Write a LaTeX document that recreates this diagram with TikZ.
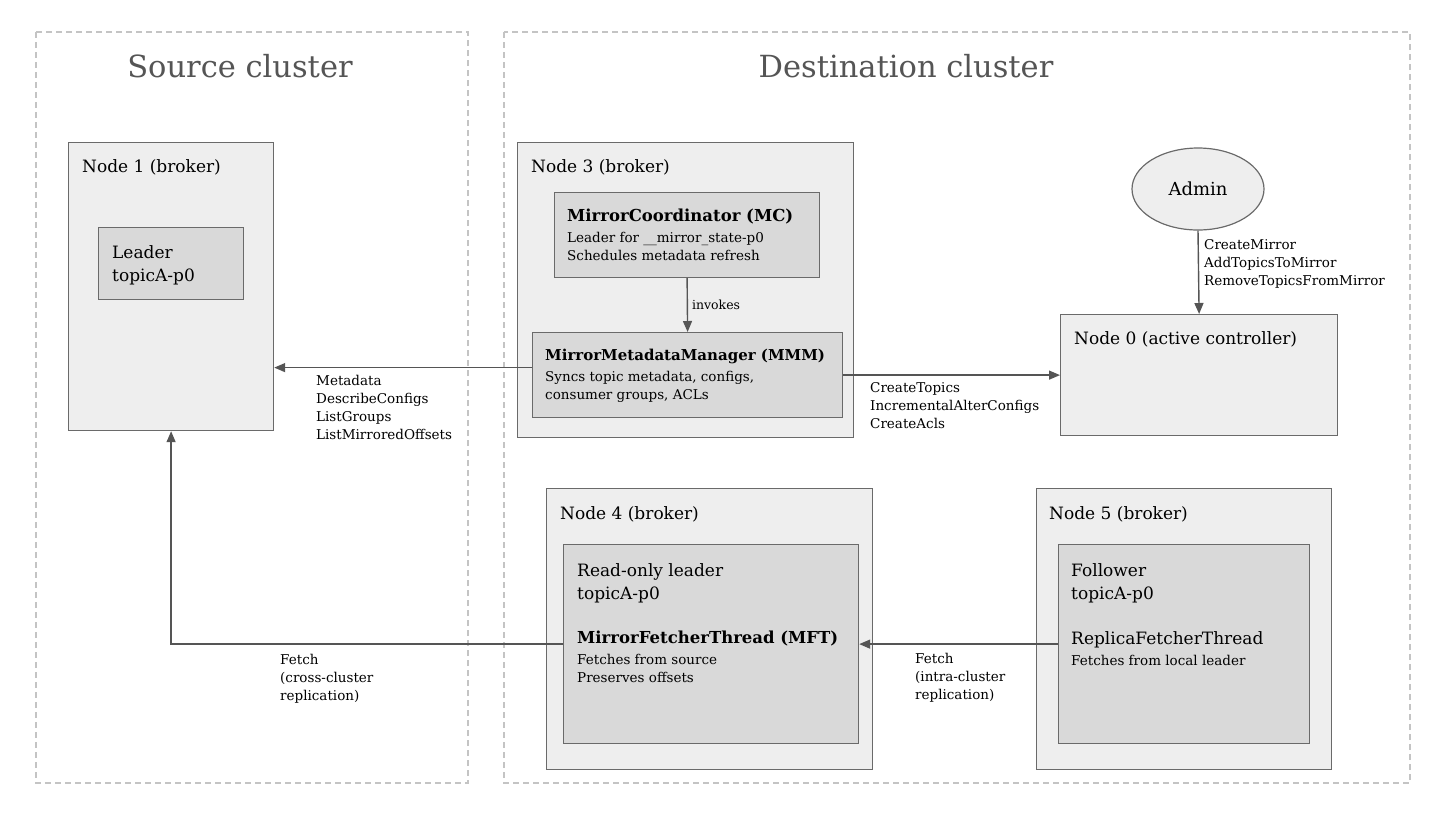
\documentclass[tikz,border=0pt]{standalone}
\usepackage{fontspec}
\setmainfont{DejaVu Serif}
\usetikzlibrary{arrows.meta,positioning,shapes.geometric}
\definecolor{Frame}{HTML}{C4C4C4}
\definecolor{Edge}{HTML}{6A6A6A}
\definecolor{Outer}{HTML}{EEEEEE}
\definecolor{Inner}{HTML}{D9D9D9}
\definecolor{Ink}{HTML}{555555}
\newcommand{\ttlsize}{\fontsize{30.5}{36}\selectfont}
\newcommand{\hdsize}{\fontsize{17}{23}\selectfont}
\newcommand{\txtsize}{\fontsize{13.5}{18}\selectfont}

\begin{document}
\begin{tikzpicture}[x=1pt,y=-1pt,>={Triangle[length=11pt,width=9pt]},
    cluster/.style={draw=Frame,line width=1.3pt,dash pattern=on 6pt off 4pt},
    outerbox/.style={draw=Edge,fill=Outer,line width=1.2pt,anchor=north west,inner sep=0pt},
    innerbox/.style={draw=Edge,fill=Inner,line width=1.2pt,anchor=north west,inner sep=0pt},
    head/.style={font=\hdsize,anchor=north west,inner sep=0pt,align=left},
    note/.style={font=\txtsize,anchor=north west,inner sep=0pt,align=left},
    flow/.style={->,draw=Ink,line width=1.4pt}]
  \useasboundingbox (0,0) rectangle (1440,815);

  % clusters
  \draw[cluster] (36,32) rectangle (468,783);
  \draw[cluster] (504,32) rectangle (1410,783);
  \node[font=\ttlsize,text=Ink] (srctitle) at (240,66) {Source cluster};
  \node[font=\ttlsize,text=Ink] (dsttitle) at (906,66) {Destination cluster};

  % source side
  \node[outerbox,minimum width=205pt,minimum height=288pt] (n1) at (68,142) {};
  \node[head] (n1lbl) at (82,159) {Node 1 (broker)};
  \node[innerbox,minimum width=145pt,minimum height=72pt] (lead) at (98,227) {};
  \node[head] (leadlbl) at (112,245) {Leader\\topicA-p0};

  % node 3
  \node[outerbox,minimum width=336pt,minimum height=295pt] (n3) at (517,142) {};
  \node[head] (n3lbl) at (531,159) {Node 3 (broker)};
  \node[innerbox,minimum width=265pt,minimum height=85pt] (mc) at (554,192) {};
  \node[note] (mclbl) at (567,209) {{\bfseries\fontsize{16.5}{18}\selectfont MirrorCoordinator (MC)}\\[3pt]Leader for \_\_mirror\_state-p0\\Schedules metadata refresh};
  \node[innerbox,minimum width=310pt,minimum height=85pt] (mmm) at (532,332) {};
  \node[note] (mmmlbl) at (545,349) {{\bfseries\fontsize{15}{18}\selectfont MirrorMetadataManager (MMM)}\\[3pt]Syncs topic metadata, configs,\\consumer groups, ACLs};

  % controller
  \node[ellipse,draw=Edge,fill=Outer,line width=1.2pt,minimum width=132pt,minimum height=82pt,font=\fontsize{18}{22}\selectfont] (admin) at (1198,189) {Admin};
  \node[outerbox,minimum width=277pt,minimum height=121pt] (n0) at (1060,314) {};
  \node[head] (n0lbl) at (1074,331) {Node 0 (active controller)};

  % node 4 and node 5
  \node[outerbox,minimum width=326pt,minimum height=281pt] (n4) at (546,488) {};
  \node[head] (n4lbl) at (560,506) {Node 4 (broker)};
  \node[innerbox,minimum width=295pt,minimum height=199pt] (mft) at (563,544) {};
  \node[head] (mftrole) at (577,563) {Read-only leader\\topicA-p0};
  \node[note] (mftlbl) at (577,631) {{\bfseries\fontsize{16.5}{18}\selectfont MirrorFetcherThread (MFT)}\\[3pt]Fetches from source\\Preserves offsets};
  \node[outerbox,minimum width=295pt,minimum height=281pt] (n5) at (1036,488) {};
  \node[head] (n5lbl) at (1049,506) {Node 5 (broker)};
  \node[innerbox,minimum width=251pt,minimum height=199pt] (rft) at (1058,544) {};
  \node[head] (rftrole) at (1071,563) {Follower\\topicA-p0};
  \node[note] (rftlbl) at (1071,631) {{\fontsize{17}{18}\selectfont ReplicaFetcherThread}\\[3pt]Fetches from local leader};

  % connectors
  \draw[flow] (mc.south) -- node[note,anchor=west,font=\fontsize{12.5}{15}\selectfont,xshift=4pt]{invokes} (mmm.north);
  \draw[flow] ([yshift=7.5pt]mmm.west) -- ([yshift=7.5pt]mmm.west -| n1.east);
  \node[note] (metalbl) at (316,375) {Metadata\\DescribeConfigs\\ListGroups\\ListMirroredOffsets};
  \draw[flow] (mmm.east) -- (n0.west);
  \node[note] (ctrllbl) at (870,382) {CreateTopics\\IncrementalAlterConfigs\\CreateAcls};
  \draw[flow] (admin.south) -- (n0.north);
  \node[note] (adminlbl) at (1204,239) {CreateMirror\\AddTopicsToMirror\\RemoveTopicsFromMirror};
  \draw[flow] (rft.west) -- (mft.east);
  \node[note] (intralbl) at (915,653) {Fetch\\(intra-cluster\\replication)};
  \draw[flow] (mft.west) -- (mft.west -| n1.south) -- (n1.south);
  \node[note] (crosslbl) at (280,654) {Fetch\\(cross-cluster\\replication)};
\end{tikzpicture}
\end{document}
